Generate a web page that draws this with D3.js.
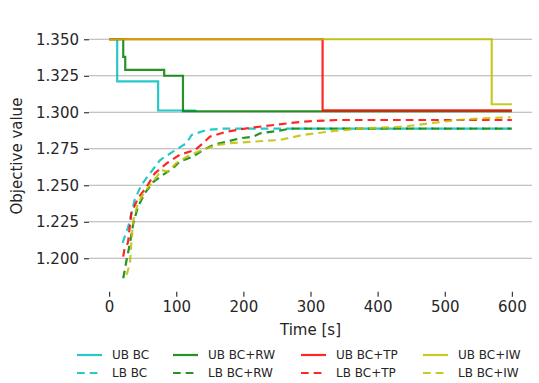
<!DOCTYPE html>
<html>
<head>
<meta charset="utf-8">
<script src="https://cdn.jsdelivr.net/npm/d3@7"></script>
<style>
  body { margin: 0; background: white; }
  text { font-family: "DejaVu Sans", sans-serif; fill: #262626; }
</style>
</head>
<body>
<script>
var WIDTH = 539;
var HEIGHT = 383;

// upper bounds, [time, value], drawn as steps
var ubBC   = [[0, 1.35], [12, 1.3212], [73, 1.3012], [130, 1.3012]];
var ubBCRW = [[0, 1.35], [21, 1.338], [24, 1.329], [82, 1.325], [110, 1.3007], [600, 1.3007]];
var ubBCTP = [[0, 1.35], [318, 1.3013], [600, 1.3013]];
var ubBCIW = [[0, 1.35], [570, 1.3055], [600, 1.3055]];

// lower bounds, [time, value]
var lbBC = [[20, 1.2105], [28, 1.2208], [31, 1.2263], [38, 1.24], [48, 1.2502], [61, 1.2582],
  [76, 1.2673], [95, 1.273], [115, 1.2788], [123, 1.2845], [145, 1.2879], [170, 1.2888], [600, 1.2888]];
var lbBCRW = [[21, 1.1863], [26, 1.1988], [31, 1.2103], [36, 1.224], [43, 1.2353], [53, 1.2445],
  [66, 1.2524], [80, 1.2571], [95, 1.2616], [105, 1.2662], [125, 1.2696], [140, 1.2742],
  [155, 1.2776], [175, 1.2799], [195, 1.2822], [215, 1.2833], [225, 1.2856], [254, 1.2874],
  [269, 1.2888], [600, 1.2888]];
var lbBCTP = [[21, 1.2011], [23, 1.2068], [28, 1.2105], [33, 1.2308], [43, 1.2411], [56, 1.249],
  [68, 1.2582], [86, 1.2651], [105, 1.2708], [128, 1.2742], [140, 1.2788], [150, 1.2833],
  [175, 1.2867], [205, 1.289], [245, 1.2913], [289, 1.2936], [339, 1.2947], [600, 1.2947]];
var lbBCIW = [[26, 1.1886], [31, 1.1966], [33, 1.2103], [36, 1.2262], [43, 1.2377], [53, 1.2456],
  [71, 1.2559], [78, 1.2605], [88, 1.2593], [100, 1.2651], [120, 1.2708], [140, 1.2742],
  [160, 1.2776], [180, 1.2788], [215, 1.2799], [254, 1.281], [289, 1.2845], [339, 1.2874],
  [379, 1.289], [438, 1.2901], [478, 1.2925], [518, 1.2947], [558, 1.2959], [598, 1.2966]];

var xTicks = [0, 100, 200, 300, 400, 500, 600];
var yTicks = [1.200, 1.225, 1.250, 1.275, 1.300, 1.325, 1.350];

// plot order = matplotlib order, last one on top
var series = [
  {name: "UB BC",    data: ubBC,   color: "#00bfbf", ub: true},
  {name: "LB BC",    data: lbBC,   color: "#00bfbf", ub: false},
  {name: "UB BC+RW", data: ubBCRW, color: "#008000", ub: true},
  {name: "LB BC+RW", data: lbBCRW, color: "#008000", ub: false},
  {name: "UB BC+TP", data: ubBCTP, color: "#ff0000", ub: true},
  {name: "LB BC+TP", data: lbBCTP, color: "#ff0000", ub: false},
  {name: "UB BC+IW", data: ubBCIW, color: "#bfbf00", ub: true},
  {name: "LB BC+IW", data: lbBCIW, color: "#bfbf00", ub: false}
];

var svg = d3.select("body").append("svg")
  .attr("width", WIDTH)
  .attr("height", HEIGHT);

var x = d3.scaleLinear().domain([-30, 630]).range([89, 532]);
var y = d3.scaleLinear().domain([1.1771, 1.3582]).range([291.7, 27.3]);

// horizontal grid
svg.append("g").selectAll("line")
  .data(yTicks)
  .enter().append("line")
  .attr("x1", x.range()[0]).attr("x2", x.range()[1])
  .attr("y1", d => y(d)).attr("y2", d => y(d))
  .attr("stroke", "#b0b0b0")
  .attr("stroke-width", 1.1);

// axes without spines
var yAxis = svg.append("g")
  .attr("transform", "translate(" + x.range()[0] + ",0)")
  .call(d3.axisLeft(y).tickValues(yTicks).tickFormat(d3.format(".3f")).tickSize(5).tickPadding(5));
var xAxis = svg.append("g")
  .attr("transform", "translate(0," + y.range()[0] + ")")
  .call(d3.axisBottom(x).tickValues(xTicks).tickSize(5).tickPadding(5));
[xAxis, yAxis].forEach(a => {
  a.select(".domain").remove();
  a.selectAll(".tick line").attr("stroke", "#262626").attr("stroke-width", 1.1);
  a.selectAll(".tick text").style("font-family", "DejaVu Sans").style("font-size", "15px").attr("fill", "#262626");
});

svg.append("text")
  .attr("x", (x(0) + x(600)) / 2).attr("y", 335)
  .attr("text-anchor", "middle")
  .style("font-size", "15px")
  .text("Time [s]");
svg.append("text")
  .attr("transform", "translate(22," + y(1.27) + ") rotate(-90)")
  .attr("text-anchor", "middle")
  .style("font-size", "15px")
  .text("Objective value");

var stepLine = d3.line().x(d => x(d[0])).y(d => y(d[1])).curve(d3.curveStepAfter);
var plainLine = d3.line().x(d => x(d[0])).y(d => y(d[1]));

svg.append("g").selectAll("path")
  .data(series)
  .enter().append("path")
  .attr("d", d => d.ub ? stepLine(d.data) : plainLine(d.data))
  .attr("fill", "none")
  .attr("stroke", d => d.color)
  .attr("stroke-opacity", 0.85)
  .attr("stroke-width", 2.2)
  .attr("stroke-dasharray", d => d.ub ? null : "7.7,5");

// legend: 4 columns, UB on top row, LB below
var legX = [77, 173, 301, 423];
var legY = [355, 373];
var leg = svg.append("g").selectAll("g")
  .data(series)
  .enter().append("g")
  .attr("transform", (d, i) => "translate(" + legX[Math.floor(i / 2)] + "," + legY[i % 2] + ")");
leg.append("line")
  .attr("x1", 0).attr("x2", 25)
  .attr("stroke", d => d.color)
  .attr("stroke-opacity", 0.85)
  .attr("stroke-width", 2.2)
  .attr("stroke-dasharray", d => d.ub ? null : "7.7,5");
leg.append("text")
  .attr("x", 35).attr("dy", "0.35em")
  .style("font-size", "12px")
  .text(d => d.name);
</script>
</body>
</html>
